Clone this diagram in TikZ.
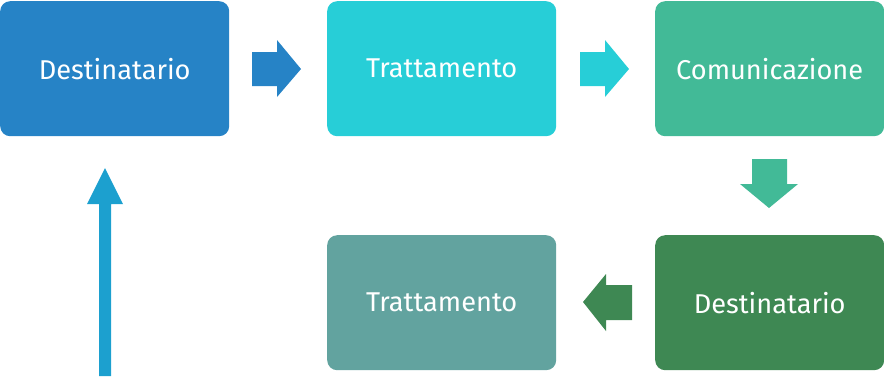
\documentclass[tikz,border=0pt]{standalone}
\usepackage{fontspec}
\setmainfont{Fira Sans}
\begin{document}
\begin{tikzpicture}[x=1pt,y=-1pt,
  box/.style={rounded corners=10pt,minimum width=229pt,minimum height=135pt,inner sep=0pt,text=white,font=\fontsize{27.2}{31}\selectfont,anchor=north west},
  blk/.style={draw=none}]
\definecolor{cA}{HTML}{2683C6}
\definecolor{cB}{HTML}{27CED7}
\definecolor{cC}{HTML}{42BA97}
\definecolor{cD}{HTML}{3E8853}
\definecolor{cE}{HTML}{62A39F}
\definecolor{cF}{HTML}{1CA0CF}
\useasboundingbox (0,0) rectangle (884,376);
\node[box,fill=cA] (d1) at (0,1) {Destinatario};
\node[box,fill=cB] (t1) at (327,1) {Trattamento};
\node[box,fill=cC] (c1) at (655,1) {Comunicazione};
\node[box,fill=cE] (t2) at (327,235) {Trattamento};
\node[box,fill=cD] (d2) at (655,235) {Destinatario};
% block arrows
\fill[cA] (252,52) -- (277,52) -- (277,40) -- (301,69) -- (277,97) -- (277,86) -- (252,86) -- cycle;
\fill[cB] (580,52) -- (605,52) -- (605,40) -- (629,69) -- (605,97) -- (605,86) -- (580,86) -- cycle;
\fill[cC] (752,159) -- (787,159) -- (787,184) -- (798,184) -- (769,208) -- (740,184) -- (752,184) -- cycle;
\fill[cD] (632,285) -- (606,285) -- (606,274) -- (583,302) -- (606,331) -- (606,320) -- (632,320) -- cycle;
% vertical arrow
\fill[cF] (99,376) -- (99,204) -- (87,204) -- (105,168) -- (123,204) -- (111,204) -- (111,376) -- cycle;
\end{tikzpicture}
\end{document}
